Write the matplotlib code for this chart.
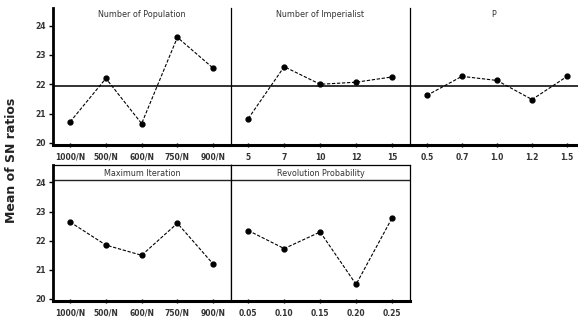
import matplotlib
matplotlib.use("Agg")
import matplotlib.pyplot as plt

# factor levels and mean SN ratios
pop_levels = ['1000/N', '500/N', '600/N', '750/N', '900/N']
pop_sn = [20.72, 22.2, 20.66, 23.6, 22.55]

imp_levels = ['5', '7', '10', '12', '15']
imp_sn = [20.83, 22.6, 22.0, 22.07, 22.25]

p_levels = ['0.5', '0.7', '1.0', '1.2', '1.5']
p_sn = [21.62, 22.27, 22.13, 21.48, 22.27]

iter_levels = ['1000/N', '500/N', '600/N', '750/N', '900/N']
iter_sn = [22.64, 21.85, 21.5, 22.6, 21.2]

rev_levels = ['0.05', '0.10', '0.15', '0.20', '0.25']
rev_sn = [22.35, 21.73, 22.3, 20.5, 22.78]

grand_mean = 21.93

W, H = 578, 320
fig = plt.figure(figsize=(W / 100, H / 100), dpi=100)


def panel(x0, x1, y0, y1, xlim_hi=4.5):
    ax = fig.add_axes([x0 / W, 1 - y1 / H, (x1 - x0) / W, (y1 - y0) / H])
    ax.set_xlim(-0.48, xlim_hi)
    ax.set_ylim(19.93, 24.6)
    return ax


def draw(ax, levels, vals, title, first, boxed=False):
    ax.plot(range(len(vals)), vals, color='black', lw=0.8,
            ls=(0, (3, 1.5)), marker='o', ms=3.5)
    ax.set_xticks(range(len(levels)))
    ax.set_xticklabels(levels, fontsize=5.5, color='#333333', fontweight='bold')
    ax.tick_params(axis='x', length=3, width=1, direction='inout', pad=4)
    ax.spines['bottom'].set_linewidth(2.2)
    ax.spines['left'].set_linewidth(2 if first else 0.9)
    ax.spines['top'].set_visible(boxed)
    ax.spines['right'].set_visible(boxed)
    if first:
        ax.set_yticks([20, 21, 22, 23, 24])
        ax.set_yticklabels(['20', '21', '22', '23', '24'], fontsize=5.5,
                           color='#333333', fontweight='bold')
        ax.tick_params(axis='y', length=3, width=1, pad=2)
    else:
        ax.set_yticks([])
    ax.text(0.5, 0.94 if boxed else 0.95, title, transform=ax.transAxes,
            ha='center', va='center', fontsize=5.8, color='#333333')


# top row
ax1 = panel(53, 231, 8, 145)
draw(ax1, pop_levels, pop_sn, 'Number of Population', True)
ax2 = panel(231, 410, 8, 145)
draw(ax2, imp_levels, imp_sn, 'Number of Imperialist', False)
ax3 = panel(410, 578, 8, 145, xlim_hi=4.31)
draw(ax3, p_levels, p_sn, 'P', False)
for ax in (ax1, ax2, ax3):
    ax.axhline(grand_mean, color='#222222', lw=1.3, zorder=1)

# bottom row
ax4 = panel(53, 231, 165, 301)
draw(ax4, iter_levels, iter_sn, 'Maximum Iteration', True, boxed=True)
ax5 = panel(231, 410, 165, 301)
draw(ax5, rev_levels, rev_sn, 'Revolution Probability', False, boxed=True)
for ax in (ax4, ax5):
    ax.axhline(24.1, color='#222222', lw=1.0, zorder=1)
    ax.spines['top'].set_linewidth(0.9)
    ax.spines['right'].set_linewidth(0.9)

fig.text(12 / W, 1 - 160 / H, 'Mean of SN ratios', rotation=90,
         ha='center', va='center', fontsize=9, fontweight='bold',
         color='#222222')

fig.savefig('out.png', dpi=100)
